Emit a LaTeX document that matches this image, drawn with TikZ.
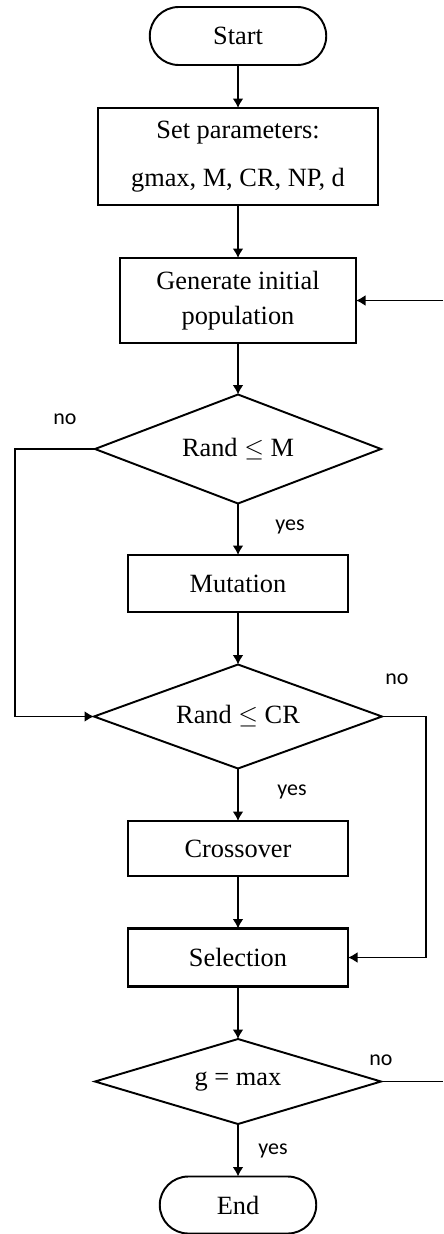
\documentclass[tikz,border=0pt]{standalone}
\usepackage{fontspec}
\setmainfont{Liberation Serif}
\newfontfamily\lblfont{Carlito}
\usepackage{tikz}
\usetikzlibrary{arrows.meta,positioning,shapes.geometric,shapes.misc}

\begin{document}
\begin{tikzpicture}[
  node distance=1.05cm,
  font=\fontsize{15}{18}\selectfont,
  every node/.style={outer sep=0pt},
  term/.style={draw,rounded rectangle,line width=1.1pt,minimum width=3.6cm,minimum height=1.16cm,inner sep=1pt},
  box/.style={draw,rectangle,line width=1.7pt,align=center,minimum width=4.4cm,minimum height=1.14cm,inner sep=1pt},
  thinbox/.style={box,line width=1.1pt},
  decision/.style={draw,diamond,aspect=2.6,line width=1.1pt,minimum width=5.72cm,minimum height=2.08cm,inner sep=1pt},
  lbl/.style={font=\lblfont\fontsize{12.5}{15}\selectfont},
  arrow/.style={-{Latex[length=1.9mm,width=2.2mm]},line width=1.1pt},
  line/.style={line width=1.1pt}
]
\useasboundingbox (0,0) rectangle (8.86,-24.68);
\coordinate (rim) at (8.86,0);
\node[term] (start) at (4.76,-0.72) {Start};
\node[box,below=0.86cm of start,minimum width=5.6cm,minimum height=1.94cm] (params)
  {Set parameters:\\[9pt]gmax, M, CR, NP, d};
\node[box,below=1.06cm of params,minimum width=4.72cm,minimum height=1.7cm] (init)
  {Generate initial\\[2pt]population};
\node[decision,below=1.03cm of init,minimum height=2.18cm] (randm) {Rand $\leq$ M};
\node[thinbox,below=1.03cm of randm] (mutate) {Mutation};
\node[decision,below=of mutate,minimum width=5.76cm] (randcr) {Rand $\leq$ CR};
\node[thinbox,below=of randcr,minimum height=1.1cm] (cross) {Crossover};
\node[box,below=of cross,minimum height=1.16cm] (select) {Selection};
\node[decision,below=of select,aspect=3.4,minimum height=1.7cm] (gmax) {g = max};
\node[term,below=of gmax,minimum width=3.2cm,minimum height=1.14cm] (stop) {End};
% main flow
\draw[arrow] (start) -- (params);
\draw[arrow] (params) -- (init);
\draw[arrow] (init) -- (randm);
\draw[arrow] (randm) -- (mutate);
\draw[arrow] (mutate) -- (randcr);
\draw[arrow] (randcr) -- (cross);
\draw[arrow] (cross) -- (select);
\draw[arrow] (select) -- (gmax);
\draw[arrow] (gmax) -- (stop);
% branches
\draw[arrow] (randm.west) -- ++(-1.6,0) |- (randcr.west);
\draw[arrow] (randcr.east) -- ++(0.88,0) |- (select.east);
\draw[line] (gmax.east) -- (gmax.east -| rim);
\draw[arrow] (init.east -| rim) -- (init.east);
% labels
\node[lbl] at ([shift={(-0.6,0.6)}]randm.west) {no};
\node[lbl] at ([shift={(1.04,-0.46)}]randm.south) {yes};
\node[lbl] at ([shift={(0.3,0.74)}]randcr.east) {no};
\node[lbl] at ([shift={(1.08,-0.46)}]randcr.south) {yes};
\node[lbl] at ([shift={(0,0.42)}]gmax.east) {no};
\node[lbl] at ([shift={(0.7,-0.54)}]gmax.south) {yes};
\end{tikzpicture}
\end{document}
